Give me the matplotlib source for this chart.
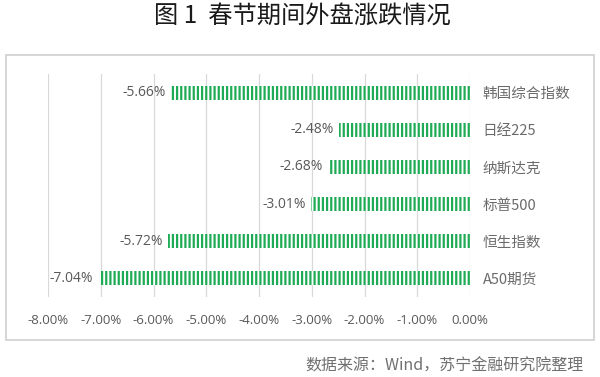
import matplotlib
matplotlib.use("Agg")
import matplotlib.pyplot as plt
from matplotlib.patches import Rectangle

plt.rcParams['font.family'] = ['Noto Sans CJK SC', 'DejaVu Sans']
plt.rcParams['hatch.linewidth'] = 1.6

categories = ['A50期货', '恒生指数', '标普500', '纳斯达克', '日经225', '韩国综合指数']
values = [-7.04, -5.72, -3.01, -2.68, -2.48, -5.66]
xticks = [-8, -7, -6, -5, -4, -3, -2, -1, 0]
title = '图 1  春节期间外盘涨跌情况'
source = '数据来源：Wind，苏宁金融研究院整理'

green = '#1fab55'
grey_txt = '#595959'
grid_c = '#d9d9d9'

fig = plt.figure(figsize=(6.0, 3.77), dpi=100)
W, H = 600, 377
ax = fig.add_axes([48 / W, 1 - 297 / H, (470 - 48) / W, (297 - 74) / H])

# outer box
fig.patches.append(Rectangle((6 / W, 1 - 340 / H), (594 - 6) / W, (340 - 55) / H,
                             transform=fig.transFigure, fill=False,
                             edgecolor='#d0d0d0', linewidth=1.2, zorder=0))

ypos = list(range(len(categories)))
ax.barh(ypos, values, height=0.38, facecolor='white', edgecolor=green,
        hatch='||||', linewidth=0, zorder=3)

for y, v in zip(ypos, values):
    ax.annotate(f'{v:.2f}%', xy=(v, y), xytext=(-4, 0), textcoords='offset points',
                ha='right', va='center', fontsize=10, color=grey_txt,
                family=['Open Sans', 'DejaVu Sans'])

ax.set_xlim(-8, 0)
ax.set_ylim(-0.5, len(categories) - 0.5)
ax.set_xticks(xticks)
ax.set_xticklabels([f'{t:.2f}%' for t in xticks], fontsize=9.5, color=grey_txt,
                   family=['Open Sans', 'DejaVu Sans'])
ax.tick_params(axis='x', length=0, pad=12)
ax.grid(axis='x', color=grid_c, linewidth=0.9, zorder=0)
ax.set_axisbelow(True)

ax.yaxis.tick_right()
ax.set_yticks(ypos)
ax.set_yticklabels(categories, fontsize=10.5, color='#6b6b6b')
ax.tick_params(axis='y', length=0, pad=9)

for s in ax.spines.values():
    s.set_visible(False)

fig.text(302 / W, 1 - 16 / H, title, ha='center', va='center', fontsize=17.5, color='#1a1a1a')
fig.text(584 / W, 1 - 366 / H, source, ha='right', va='center', fontsize=11.5,
         color='#707070', style='italic')

fig.savefig('out.png', dpi=100)
